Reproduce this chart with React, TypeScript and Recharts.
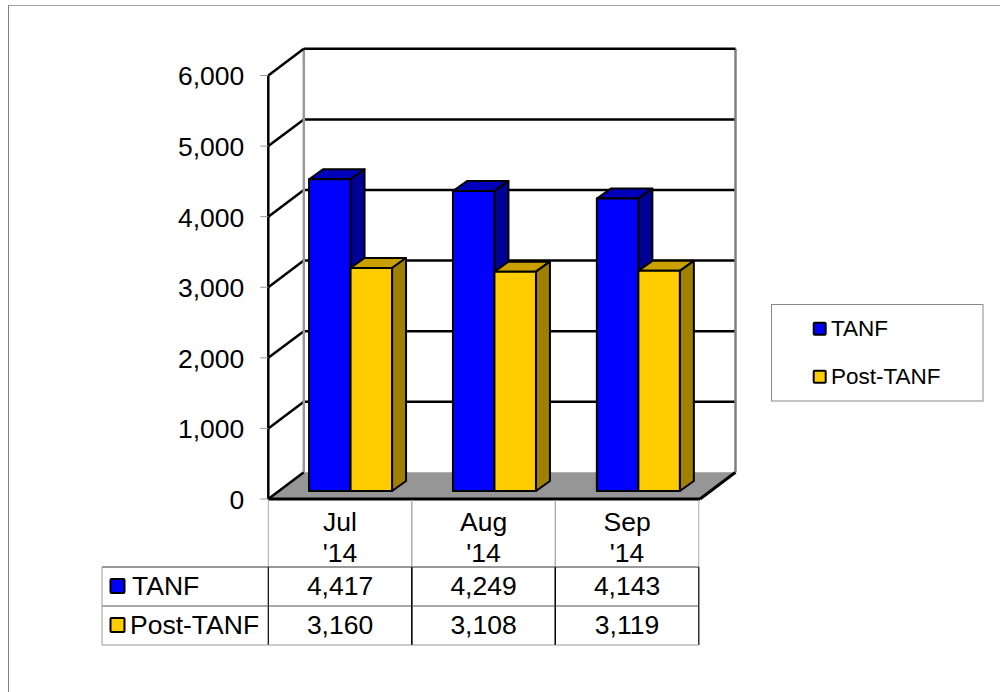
import React from 'react';
import { BarChart, Bar, XAxis, YAxis, CartesianGrid, Legend } from 'recharts';

const categories = ["Jul '14", "Aug '14", "Sep '14"];
const tanf = [4417, 4249, 4143];
const postTanf = [3160, 3108, 3119];
const yTicks = [0, 1000, 2000, 3000, 4000, 5000, 6000];

const chartData = categories.map((name, i) => ({ name, tanf: tanf[i], postTanf: postTanf[i] }));

const FONT = '"Liberation Sans", Arial, sans-serif';
const BLUE = { front: '#0000ff', top: '#0000bb', side: '#000099' };
const GOLD = { front: '#ffcc00', top: '#c9a000', side: '#a08000' };

// 3D look: wall depth and how far the bars sit inside the floor
const DEPTH_X = 35.5;
const DEPTH_Y = 26.7;
const BAR_SHIFT_X = 10.75;
const BAR_SHIFT_Y = 8;
const BAR_DX = 14;
const BAR_DY = 10;
const PLOT_LEFT = 268.3;
const TOP_Y = 75.5;
const FLOOR_Y = 499;
// table columns are a touch narrower than the plot bands
const COL_W = 143.5;

const Box3D = (colors: typeof BLUE) => (props: any) => {
  const x = props.x + BAR_SHIFT_X;
  const y = props.y - BAR_SHIFT_Y;
  const { width: w, height: h } = props;
  return (
    <g stroke="#000" strokeWidth={2} strokeLinejoin="round">
      <polygon fill={colors.top} points={`${x},${y} ${x + BAR_DX},${y - BAR_DY} ${x + w + BAR_DX},${y - BAR_DY} ${x + w},${y}`} />
      <polygon fill={colors.side} points={`${x + w},${y} ${x + w + BAR_DX},${y - BAR_DY} ${x + w + BAR_DX},${y + h - BAR_DY} ${x + w},${y + h}`} />
      <rect x={x} y={y} width={w} height={h} fill={colors.front} />
    </g>
  );
};

// each horizontal grid line is one back wall line plus the diagonal on the side wall
const WallLine = (props: any) => {
  const { x1, x2, y1 } = props;
  const isFloor = Math.abs(y1 - FLOOR_Y) < 1;
  const isTop = Math.abs(y1 - TOP_Y) < 1;
  return (
    <g key={`wall-${y1}`}>
      {isFloor && (
        <polygon
          fill="#969696"
          points={`${x1},${y1} ${x1 + DEPTH_X},${y1 - DEPTH_Y} ${x2 + DEPTH_X},${y1 - DEPTH_Y} ${x2},${y1}`}
        />
      )}
      {isTop && (
        <>
          <line x1={x1 + DEPTH_X} x2={x1 + DEPTH_X} y1={y1 - DEPTH_Y} y2={FLOOR_Y - DEPTH_Y} stroke="#999" strokeWidth={2.5} />
          <line x1={x2 + DEPTH_X} x2={x2 + DEPTH_X} y1={y1 - DEPTH_Y} y2={FLOOR_Y - DEPTH_Y} stroke="#808080" strokeWidth={2.5} />
          <line x1={x1} x2={x1} y1={y1} y2={FLOOR_Y} stroke="#000" strokeWidth={2.5} />
        </>
      )}
      {!isFloor && <line x1={x1 + DEPTH_X} x2={x2 + DEPTH_X} y1={y1 - DEPTH_Y} y2={y1 - DEPTH_Y} stroke="#000" strokeWidth={2.5} />}
      <line x1={x1} x2={x1 + DEPTH_X} y1={y1} y2={y1 - DEPTH_Y} stroke="#000" strokeWidth={2.5} />
      {isFloor && (
        <>
          <line x1={x1} x2={x2} y1={y1} y2={y1} stroke="#000" strokeWidth={3} />
          <line x1={x2} x2={x2 + DEPTH_X} y1={y1} y2={y1 - DEPTH_Y} stroke="#000" strokeWidth={3} />
        </>
      )}
    </g>
  );
};

const Swatch = ({ x, y, fill, size = 14 }: { x: number; y: number; fill: string; size?: number }) => (
  <rect x={x} y={y} width={size} height={size} rx={1} fill={fill} stroke="#000" strokeWidth={2} />
);

// the data table hangs under the category axis, so it is drawn from the axis ticks
const TableTick = (props: any) => {
  const { index, payload } = props;
  const [month, year] = String(payload.value).split(' ');
  const left = PLOT_LEFT + index * COL_W;
  const right = left + COL_W;
  const x = left + COL_W / 2;
  const textStyle = { fontFamily: FONT, fontSize: 26.5, fill: '#000' };
  return (
    <g>
      <line x1={left} x2={left} y1={500} y2={567} stroke="#aaa" />
      <line x1={right} x2={right} y1={500} y2={567} stroke="#aaa" />
      <line x1={left} x2={left} y1={567} y2={645} stroke="#000" strokeWidth={1.2} />
      <line x1={right} x2={right} y1={567} y2={645} stroke="#000" strokeWidth={1.2} />
      <line x1={left} x2={right} y1={567} y2={567} stroke="#333" />
      <line x1={left} x2={right} y1={606} y2={606} stroke="#555" />
      <line x1={left} x2={right} y1={645} y2={645} stroke="#999" />
      <text x={x} y={531} textAnchor="middle" {...textStyle}>{month}</text>
      <text x={x} y={562} textAnchor="middle" {...textStyle}>{year}</text>
      <text x={x} y={595} textAnchor="middle" {...textStyle}>{tanf[index].toLocaleString('en-US')}</text>
      <text x={x} y={634} textAnchor="middle" {...textStyle}>{postTanf[index].toLocaleString('en-US')}</text>
      {index === 0 && (
        <g>
          <line x1={102} x2={PLOT_LEFT} y1={567} y2={567} stroke="#333" />
          <line x1={102} x2={PLOT_LEFT} y1={606} y2={606} stroke="#555" />
          <line x1={102} x2={PLOT_LEFT} y1={645} y2={645} stroke="#999" />
          <line x1={102} x2={102} y1={567} y2={645} stroke="#999" />
          <Swatch x={110.5} y={579} fill={BLUE.front} />
          <Swatch x={110.5} y={618} fill={GOLD.front} />
          <text x={132} y={595} {...textStyle}>TANF</text>
          <text x={130} y={634} {...textStyle}>Post-TANF</text>
        </g>
      )}
    </g>
  );
};

const LegendBox = () => (
  <svg width={213} height={98} style={{ display: 'block' }}>
    <rect x={0.5} y={0.5} width={211.5} height={96.5} fill="#fff" stroke="#888" />
    <Swatch x={42.7} y={18.7} fill={BLUE.front} size={12} />
    <text x={60} y={32} fontFamily={FONT} fontSize={22.5} fill="#000">TANF</text>
    <Swatch x={42.7} y={66.7} fill={GOLD.front} size={12} />
    <text x={60} y={80} fontFamily={FONT} fontSize={22.5} fill="#000">Post-TANF</text>
  </svg>
);

export default function App() {
  return (
    <div style={{ position: 'absolute', left: 0, top: 0, width: 1000, height: 692, background: '#fff', overflow: 'hidden' }}>
      <div style={{ position: 'absolute', left: 8, top: 5, width: 992, height: 687, borderTop: '1px solid #a0a0a0', borderLeft: '1px solid #808080' }} />
      <BarChart
        width={1000}
        height={692}
        data={chartData}
        barSize={41.5}
        barGap={0}
        margin={{ top: TOP_Y, right: 87, bottom: 0, left: 0 }}
      >
        <CartesianGrid horizontal={WallLine} vertical={false} />
        <XAxis dataKey="name" height={692 - FLOOR_Y} axisLine={false} tickLine={false} tick={TableTick} interval={0} />
        <YAxis
          width={PLOT_LEFT}
          domain={[0, 6000]}
          ticks={yTicks}
          interval={0}
          axisLine={false}
          tickSize={8}
          tickMargin={16}
          tickLine={{ stroke: '#999' }}
          tickFormatter={(v: number) => v.toLocaleString('en-US')}
          tick={{ fontFamily: FONT, fontSize: 26.5, fill: '#000', dy: 0.5 }}
        />
        <Legend
          layout="vertical"
          align="right"
          verticalAlign="middle"
          content={LegendBox}
          wrapperStyle={{ left: 771, top: 304, width: 213, height: 98 }}
        />
        <Bar dataKey="tanf" name="TANF" shape={Box3D(BLUE)} isAnimationActive={false} />
        <Bar dataKey="postTanf" name="Post-TANF" shape={Box3D(GOLD)} isAnimationActive={false} />
      </BarChart>
    </div>
  );
}
